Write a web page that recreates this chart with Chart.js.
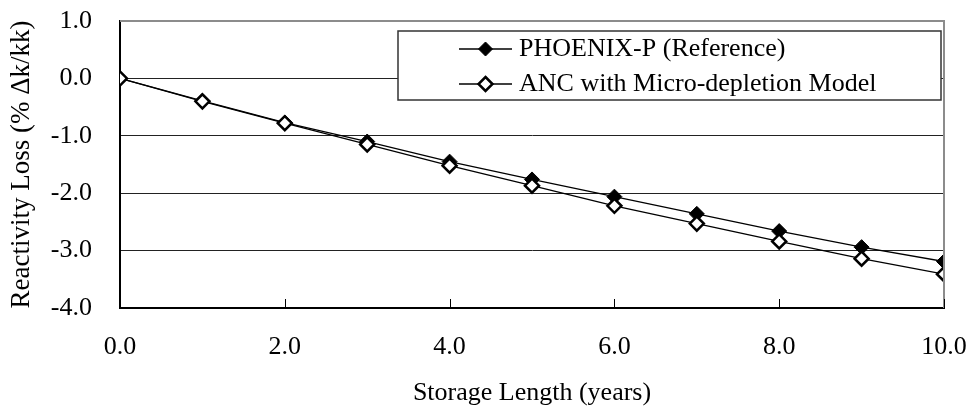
<!DOCTYPE html>
<html>
<head>
<meta charset="utf-8">
<script src="https://cdn.jsdelivr.net/npm/chart.js@4/dist/chart.umd.min.js"></script>
<style>
  html, body { margin: 0; padding: 0; background: #ffffff; }
  #wrap { width: 973px; height: 407px; }
</style>
</head>
<body>
<div id="wrap"><canvas id="c" width="973" height="407"></canvas></div>
<script>
// Reactivity loss of stored fuel versus storage time
const storageYears = [0, 1, 2, 3, 4, 5, 6, 7, 8, 9, 10];
const phoenixLoss = [0.0, -0.39, -0.77, -1.10, -1.45, -1.76, -2.06, -2.36, -2.66, -2.94, -3.19];
const ancLoss     = [0.0, -0.40, -0.78, -1.15, -1.52, -1.87, -2.22, -2.53, -2.84, -3.14, -3.41];
const seriesNames = ['PHOENIX-P (Reference)', 'ANC with Micro-depletion Model'];
const xAxisTitle = 'Storage Length (years)';
const yAxisTitle = 'Reactivity Loss (% \u0394k/kk)';
const xTickValues = [0, 2, 4, 6, 8, 10];
const yTickValues = [1, 0, -1, -2, -3, -4];

const FONT = "'Liberation Serif', 'Times New Roman', serif";

function points(xs, ys) {
  return xs.map((x, i) => ({ x: x, y: ys[i] }));
}

// Plot frame, inward x ticks and the boxed legend
const framePlugin = {
  id: 'frameAndLegend',
  afterDatasetsDraw(chart) {
    const { ctx, chartArea: a, scales } = chart;
    ctx.save();
    // grey top and right edges of the plot frame
    ctx.strokeStyle = '#8c8c8c';
    ctx.lineWidth = 2;
    ctx.beginPath();
    ctx.moveTo(a.left, a.top);
    ctx.lineTo(a.right, a.top);
    ctx.lineTo(a.right, a.bottom);
    ctx.stroke();
    // inward tick marks on the x axis
    ctx.strokeStyle = '#000';
    ctx.lineWidth = 1;
    scales.x.ticks.forEach(t => {
      const px = Math.round(scales.x.getPixelForValue(t.value)) + 0.5;
      ctx.beginPath();
      ctx.moveTo(px, a.bottom);
      ctx.lineTo(px, a.bottom - 9);
      ctx.stroke();
    });

    // legend box in the upper right of the plot
    const boxL = a.left + 278, boxR = a.right - 3, boxT = a.top + 10, boxB = a.top + 79;
    ctx.fillStyle = '#fff';
    ctx.fillRect(boxL, boxT, boxR - boxL, boxB - boxT);
    ctx.strokeStyle = '#333';
    ctx.lineWidth = 1.5;
    ctx.strokeRect(boxL, boxT, boxR - boxL, boxB - boxT);

    ctx.font = '26px ' + FONT;
    ctx.textBaseline = 'middle';
    ctx.textAlign = 'left';
    chart.data.datasets.forEach((ds, i) => {
      const cy = boxT + 18 + i * 35;
      const x0 = boxL + 61, x1 = boxL + 114, cx = (x0 + x1) / 2;
      ctx.strokeStyle = '#000';
      ctx.lineWidth = 1.3;
      ctx.beginPath();
      ctx.moveTo(x0, cy);
      ctx.lineTo(x1, cy);
      ctx.stroke();
      const r = 7;
      ctx.beginPath();
      ctx.moveTo(cx, cy - r);
      ctx.lineTo(cx + r, cy);
      ctx.lineTo(cx, cy + r);
      ctx.lineTo(cx - r, cy);
      ctx.closePath();
      ctx.fillStyle = ds.pointBackgroundColor;
      ctx.fill();
      ctx.lineWidth = ds.pointBorderWidth;
      ctx.strokeStyle = '#000';
      ctx.stroke();
      ctx.fillStyle = '#000';
      ctx.fillText(ds.label, boxL + 121, cy);
    });
    ctx.restore();
  }
};

new Chart(document.getElementById('c'), {
  type: 'line',
  data: {
    datasets: [
      {
        label: seriesNames[0],
        data: points(storageYears, phoenixLoss),
        borderColor: '#000',
        borderWidth: 1.3,
        pointStyle: 'rectRot',
        pointRadius: 7.5,
        pointBackgroundColor: '#000',
        pointBorderColor: '#000',
        pointBorderWidth: 1,
        order: 1
      },
      {
        label: seriesNames[1],
        data: points(storageYears, ancLoss),
        borderColor: '#000',
        borderWidth: 1.3,
        pointStyle: 'rectRot',
        pointRadius: 7,
        pointBackgroundColor: '#fff',
        pointBorderColor: '#000',
        pointBorderWidth: 2.5,
        order: 0
      }
    ]
  },
  options: {
    responsive: false,
    animation: false,
    events: [],
    layout: { padding: { top: 21, right: 29, bottom: 0, left: 0 } },
    plugins: {
      legend: { display: false },
      tooltip: { enabled: false }
    },
    scales: {
      x: {
        type: 'linear',
        min: 0,
        max: 10,
        afterBuildTicks(scale) { scale.ticks = xTickValues.map(v => ({ value: v })); },
        afterFit(scale) {
          scale.height = 99;
          scale.paddingLeft = 0;
          scale.paddingRight = 0;
        },
        grid: { display: false },
        border: { display: true, color: '#000', width: 2 },
        ticks: {
          color: '#000',
          font: { family: FONT, size: 26 },
          padding: 16,
          maxRotation: 0,
          callback: v => v.toFixed(1)
        },
        title: {
          display: true,
          text: xAxisTitle,
          color: '#000',
          font: { family: FONT, size: 26, lineHeight: 1.1 },
          padding: { top: 0, bottom: 0 }
        }
      },
      y: {
        type: 'linear',
        min: -4,
        max: 1,
        afterBuildTicks(scale) { scale.ticks = yTickValues.map(v => ({ value: v })); },
        afterFit(scale) {
          scale.width = 120;
          scale.paddingTop = 0;
          scale.paddingBottom = 0;
        },
        grid: {
          drawTicks: false,
          color: ctx => (ctx.tick && ctx.tick.value === 1 ? 'rgba(0,0,0,0)' : '#222'),
          lineWidth: 1
        },
        border: { display: true, color: '#000', width: 2 },
        ticks: {
          color: '#000',
          font: { family: FONT, size: 26 },
          padding: 28,
          callback: v => v.toFixed(1)
        },
        title: {
          display: true,
          text: yAxisTitle,
          color: '#000',
          font: { family: FONT, size: 27 },
          padding: { top: 6, bottom: 0 }
        }
      }
    }
  },
  plugins: [framePlugin]
});
</script>
</body>
</html>
